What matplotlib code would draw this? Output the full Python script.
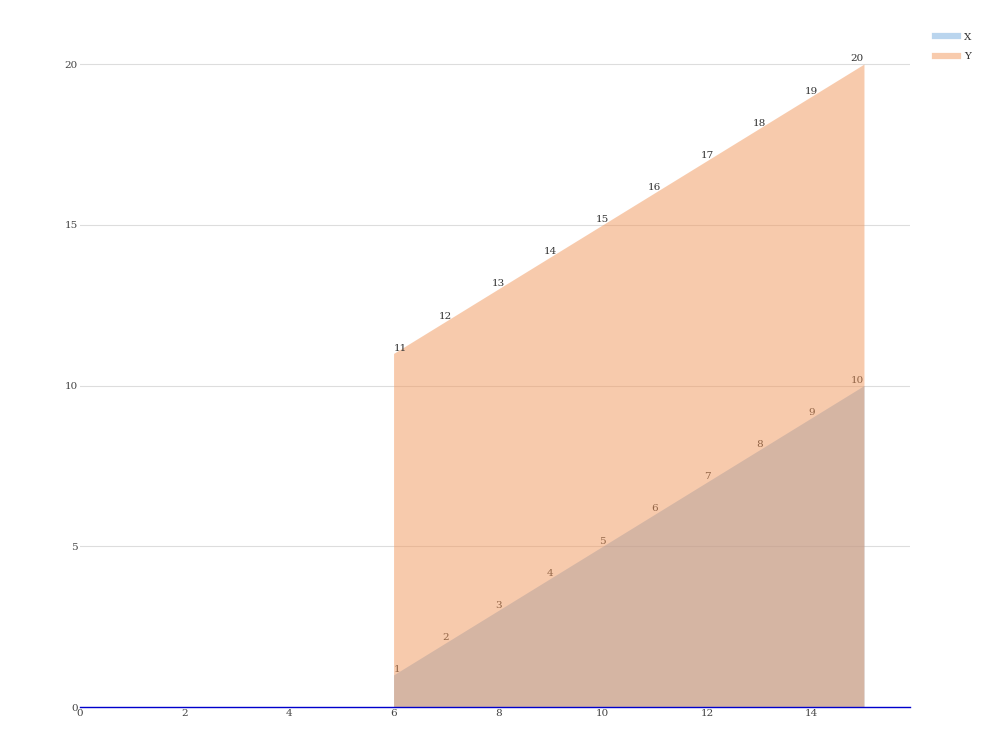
import matplotlib.pyplot as plt
from matplotlib.lines import Line2D

# data
x_vals = [6, 7, 8, 9, 10, 11, 12, 13, 14, 15]
series_x = [1, 2, 3, 4, 5, 6, 7, 8, 9, 10]
series_y = [11, 12, 13, 14, 15, 16, 17, 18, 19, 20]
x_ticks = [0, 2, 4, 6, 8, 10, 12, 14]
y_ticks = [0, 5, 10, 15, 20]

blue = '#75abdd'
orange = '#f1975b'

plt.rcParams['font.family'] = ['DejaVu Serif']

fig = plt.figure(figsize=(9.92, 7.44), dpi=100)
ax = fig.add_axes([0.0806, 0.0497, 0.8367, 0.91])


def put_labels(xs, ys, z):
    # edge labels are kept inside the area, the rest are centred
    for i, (xv, yv) in enumerate(zip(xs, ys)):
        ha = 'center'
        if i == 0:
            ha = 'left'
        elif i == len(xs) - 1:
            ha = 'right'
        ax.annotate(str(yv), (xv, yv), xytext=(0, 0.5), textcoords='offset points',
                    ha=ha, va='bottom', fontsize=7.5, color='#333333', zorder=z)


# blue area first, labels, then the orange area over it
ax.fill_between(x_vals, 0, series_x, color=blue, alpha=0.5, lw=0, zorder=2)
put_labels(x_vals, series_x, 3)
ax.fill_between(x_vals, 0, series_y, color=orange, alpha=0.5, lw=0, zorder=4)
put_labels(x_vals, series_y, 5)

ax.set_xlim(0, 15.88)
ax.set_ylim(0, 21.06)
ax.set_xticks(x_ticks)
ax.set_yticks(y_ticks)
ax.tick_params(axis='both', length=0, labelsize=7.5, labelcolor='#444444')
ax.tick_params(axis='x', pad=1.5)
ax.tick_params(axis='y', pad=1.5)
ax.grid(axis='y', color='#dddddd', lw=0.8, zorder=1)
for side in ['top', 'right', 'left']:
    ax.spines[side].set_visible(False)
ax.spines['bottom'].set_color('#0000cc')
ax.spines['bottom'].set_linewidth(1.0)
ax.spines['bottom'].set_zorder(6)

handles = [Line2D([], [], color='#bad5ee', lw=4.5),
           Line2D([], [], color='#f8cbad', lw=4.5)]
leg = fig.legend(handles, ['X', 'Y'], loc='upper left', bbox_to_anchor=(0.938, 0.962),
                 frameon=False, fontsize=7.5, handlelength=2.2, handletextpad=0.6,
                 labelspacing=1.0, borderaxespad=0)
for t in leg.get_texts():
    t.set_color('#333333')

fig.savefig('out.png', dpi=100)
